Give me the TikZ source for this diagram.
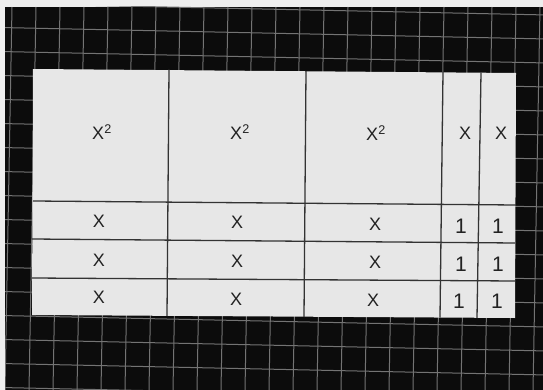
\documentclass[tikz,border=0pt]{standalone}
\usepackage{fontspec}
\setmainfont{Liberation Sans}
\usetikzlibrary{calc}
\definecolor{paperwhite}{HTML}{EEEEEE}
\definecolor{boardblack}{HTML}{0C0C0C}
\definecolor{boardgrid}{HTML}{747474}
\definecolor{tilefill}{HTML}{E7E7E7}
\definecolor{tileedge}{HTML}{333333}
\definecolor{tileink}{HTML}{222222}
\tikzset{
  gridline/.style={boardgrid, line width=1pt},
  cutline/.style={tileedge, line width=1.3pt},
  varlabel/.style={font=\fontsize{18}{20}\selectfont, text=tileink, inner sep=0pt, anchor=base},
  onelabel/.style={font=\fontsize{21}{23}\selectfont, text=tileink, inner sep=0pt, anchor=base}
}

\begin{document}
\begin{tikzpicture}[x=1pt,y=-1pt]
    \useasboundingbox (0,0) rectangle (543,390);
    \fill[paperwhite] (0,0) rectangle (543,390);
    % board with its grid
    \fill[boardblack] (5,7) rectangle (543,390);
    \begin{scope}
      \clip (5,7) rectangle (543,390);
      \foreach \i in {0,...,16} \draw[gridline] (5,3.6+24*\i) -- (543,14.9+24*\i);
      \foreach \i in {0,...,22} \draw[gridline] (12+24*\i,7) -- (5+24*\i,390);
    \end{scope}
    % the tiles
    \coordinate (tl) at (33,69);
    \coordinate (tr) at (516,73);
    \coordinate (br) at (515,318);
    \coordinate (bl) at (32,315);
    \fill[tilefill] (tl) -- (tr) -- (br) -- (bl) -- cycle;
    \draw[cutline] (169,69.5) -- (167,316);
    \draw[cutline] (306,71) -- (304,317);
    \draw[cutline] (443,72) -- (440,317.5);
    \draw[cutline] (481,72.5) -- (477,318);
    \draw[cutline] (33,201) -- (516,205);
    \draw[cutline] (32,239) -- (515,243);
    \draw[cutline] (32,278) -- (515,281);
    % labels
    \node[varlabel] (sqA) at (102,140) {X\textsuperscript{2}};
    \node[varlabel] (sqB) at (240,140) {X\textsuperscript{2}};
    \node[varlabel] (sqC) at (376,141) {X\textsuperscript{2}};
    \node[varlabel] (rodA) at (465,139.5) {X};
    \node[varlabel] (rodB) at (501,139.5) {X};
    \node[varlabel] (xA1) at (99,227) {X};
    \node[varlabel] (xB1) at (237,228) {X};
    \node[varlabel] (xC1) at (375,230) {X};
    \node[varlabel] (xA2) at (99,266) {X};
    \node[varlabel] (xB2) at (237,267) {X};
    \node[varlabel] (xC2) at (375,268) {X};
    \node[varlabel] (xA3) at (99,303) {X};
    \node[varlabel] (xB3) at (236,305) {X};
    \node[varlabel] (xC3) at (373,306) {X};
    \node[onelabel] (oneA1) at (461,233.5) {1};
    \node[onelabel] (oneB1) at (498,233.5) {1};
    \node[onelabel] (oneA2) at (461,271) {1};
    \node[onelabel] (oneB2) at (498,271.5) {1};
    \node[onelabel] (oneA3) at (459,308) {1};
    \node[onelabel] (oneB3) at (497,308.5) {1};
  \end{tikzpicture}
\end{document}
